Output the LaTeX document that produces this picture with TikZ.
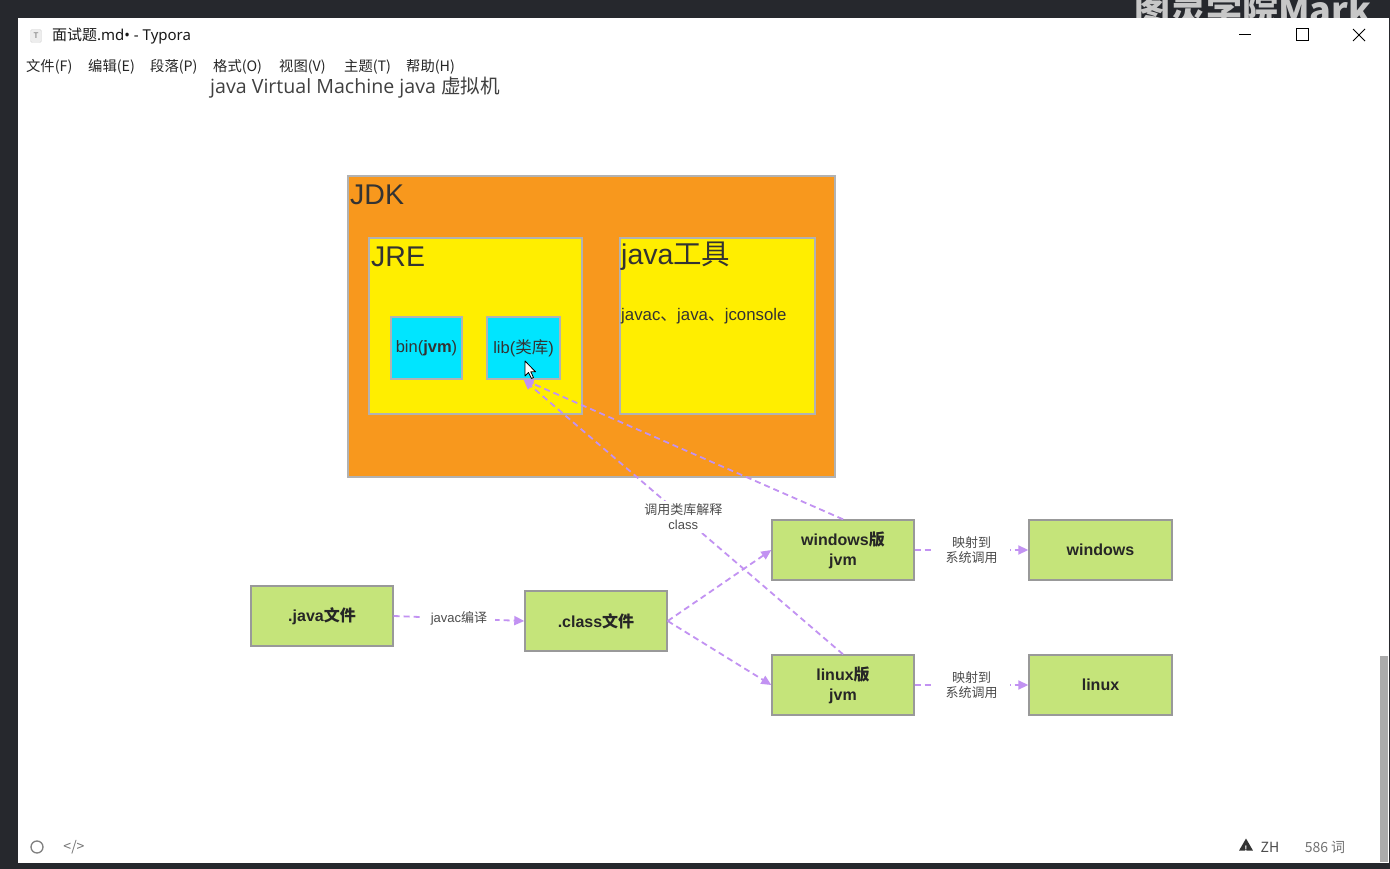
\documentclass[tikz,border=0pt]{standalone}
\usepackage{fontspec}
\setmainfont{Liberation Sans}
\newfontfamily\cjk{Noto Sans CJK SC}
\newfontfamily\uifont{Noto Sans CJK SC}
\newfontfamily\uilatin{Noto Sans}
\newfontfamily\headfont{Open Sans}
\usetikzlibrary{arrows.meta,shapes.geometric}
\definecolor{jdkorange}{HTML}{F8981D}
\definecolor{jreyellow}{HTML}{FFEE00}
\definecolor{libcyan}{HTML}{00E5FF}
\definecolor{stepgreen}{HTML}{C5E47A}
\definecolor{flowpurple}{HTML}{C292F2}
\definecolor{framedark}{HTML}{26282D}
\tikzset{
  areabox/.style={draw=black!30, line width=1.2pt, inner sep=0pt},
  libbox/.style={areabox, fill=libcyan, font=\fontsize{16.5}{18}\selectfont, text=black!80},
  stepbox/.style={draw=black!40, line width=1.4pt, fill=stepgreen, inner sep=0pt,
    minimum width=142pt, minimum height=60pt, align=center,
    font=\fontsize{16}{20}\selectfont\bfseries, text=black!85},
  flow/.style={draw=flowpurple, line width=1.8pt, dash pattern=on 6pt off 4pt,
    -{Triangle[length=10pt,width=9pt]}},
  elab/.style={fill=white, inner xsep=8pt, inner ysep=3pt, align=center,
    font=\fontsize{13}{15}\selectfont, text=black!70},
  bigtitle/.style={anchor=west, inner sep=0pt, font=\fontsize{28.5}{30}\selectfont, text=black!80},
  menuitem/.style={anchor=west, inner sep=0pt, font=\uifont\fontsize{14.3}{16}\selectfont, text=black!85},
  statustext/.style={inner sep=0pt, font=\uifont\fontsize{14}{16}\selectfont, text=black!55},
}
\begin{document}
\begin{tikzpicture}[x=1pt,y=-1pt]
\useasboundingbox (0,0) rectangle (1390,869);
% desktop behind the window, with the overlay logo partly hidden by the window
\fill[framedark] (0,0) rectangle (1390,869);
\node[anchor=base west, inner sep=0pt, text=white!78!black,
  font=\cjk\fontsize{36}{40}\selectfont\bfseries] (mark) at (1134,24) {图灵学院Mark};
% application window
\fill[white] (18,18) rectangle (1389,863);

% title bar
\node[draw=black!15, fill=black!7, rounded corners=1.5pt, minimum width=11pt, minimum height=13pt,
  inner sep=0pt, font=\fontsize{8}{8}\selectfont, text=black!60] (appicon) at (36,36) {T};
\node[anchor=west, inner sep=0pt, font=\uifont\fontsize{15}{17}\selectfont, text=black!90]
  (title) at (52,36) {面试题{\uilatin .md• - Typora}};
\coordinate (minA) at (1239,35); \coordinate (minB) at (1251,35);
\draw[line width=1pt] (minA) -- (minB);
\coordinate (maxA) at (1296,29); \coordinate (maxB) at (1308,41);
\draw[line width=1pt] (maxA) rectangle (maxB);
\coordinate (clA) at (1353,29); \coordinate (clB) at (1365,41);
\coordinate (clC) at (1353,41); \coordinate (clD) at (1365,29);
\draw[line width=1pt] (clA) -- (clB) (clC) -- (clD);

% menu bar
\node[menuitem] (mfile) at (26,67) {文件(F)};
\node[menuitem] (medit) at (88,67) {编辑(E)};
\node[menuitem] (mpara) at (150,67) {段落(P)};
\node[menuitem] (mformat) at (213,67) {格式(O)};
\node[menuitem] (mview) at (279,67) {视图(V)};
\node[menuitem] (mtheme) at (344,67) {主题(T)};
\node[menuitem] (mhelp) at (406,67) {帮助(H)};

% heading line of the document
\node[anchor=west, inner sep=0pt, font=\headfont\fontsize{19.6}{21}\selectfont, text=black!75]
  (heading) at (210,88) {java Virtual Machine java {\cjk 虚拟机}};

% JDK containers
\node[areabox, fill=jdkorange, minimum width=487pt, minimum height=301pt] (jdk) at (591.5,326.5) {};
\node[bigtitle] (jdktitle) at (350,195) {JDK};
\node[areabox, fill=jreyellow, minimum width=213pt, minimum height=176pt] (jre) at (475.5,326) {};
\node[bigtitle] (jretitle) at (371,257) {JRE};
\node[areabox, fill=jreyellow, minimum width=195pt, minimum height=176pt] (tools) at (717.5,326) {};
\node[bigtitle] (toolstitle) at (621,256) {java{\cjk 工具}};
\node[anchor=west, inner sep=0pt, font=\fontsize{16.8}{18}\selectfont, text=black!80]
  (toollist) at (621,316) {javac{\cjk 、}java{\cjk 、}jconsole};
\node[libbox, minimum width=71pt, minimum height=62pt] (bin) at (426.5,348) {bin(\textbf{jvm})};
\node[libbox, minimum width=73pt, minimum height=62pt] (lib) at (523.5,348) {lib({\cjk 类库})};

% compile and run pipeline
\node[stepbox] (javafile) at (322,616) {.java{\cjk 文件}};
\node[stepbox] (classfile) at (596,621) {.class{\cjk 文件}};
\node[stepbox] (winjvm) at (843,550) {windows{\cjk 版}\\jvm};
\node[stepbox] (linjvm) at (843,685) {linux{\cjk 版}\\jvm};
\node[stepbox, minimum width=143pt] (winos) at (1100.5,550) {windows};
\node[stepbox, minimum width=143pt] (linos) at (1100.5,685) {linux};

\draw[flow] (javafile.east) -- node[elab] {javac{\cjk 编译}} (classfile.west);
\draw[flow] (classfile.east) -- (winjvm.west);
\draw[flow] (classfile.east) -- (linjvm.west);
\draw[flow] (winjvm.north) -- (lib.south);
\draw[flow] (linjvm.north) -- node[elab, inner xsep=3pt] {{\cjk 调用类库解释}\\class} (lib.south);
\draw[flow] (winjvm.east) -- node[elab, inner xsep=12pt, font=\cjk\fontsize{13}{15}\selectfont] {映射到\\系统调用} (winos.west);
\draw[flow] (linjvm.east) -- node[elab, inner xsep=12pt, font=\cjk\fontsize{13}{15}\selectfont] {映射到\\系统调用} (linos.west);

% mouse pointer resting on lib
\coordinate (ptr) at (525,361);
\draw[fill=white, line width=0.8pt, line join=round, shift={(ptr)}]
  (0,0) -- (0,15) -- (3.5,11.5) -- (6.5,17.5) -- (8.5,16.5) -- (5.8,10.8) -- (10.5,10.8) -- cycle;

% scrollbar
\fill[black!33] (1380,656) rectangle (1388,862);

% status bar
\node[draw=black!50, line width=1.3pt, circle, minimum size=12pt, inner sep=0pt] (srcmode) at (37,847) {};
\node[statustext] (codeicon) at (74,847) {</>};
\node[fill=black!80, isosceles triangle, isosceles triangle apex angle=60, shape border rotate=90,
  minimum height=12pt, minimum width=13pt, inner sep=0pt] (warn) at (1246,846.5) {};
\node[inner sep=0pt, text=white, font=\bfseries\fontsize{8}{8}\selectfont] (warnmark) at (1246,848.5) {!};
\node[statustext, text=black!70] (lang) at (1270,847) {ZH};
\node[statustext] (words) at (1325,847) {586 词};
\end{tikzpicture}
\end{document}
